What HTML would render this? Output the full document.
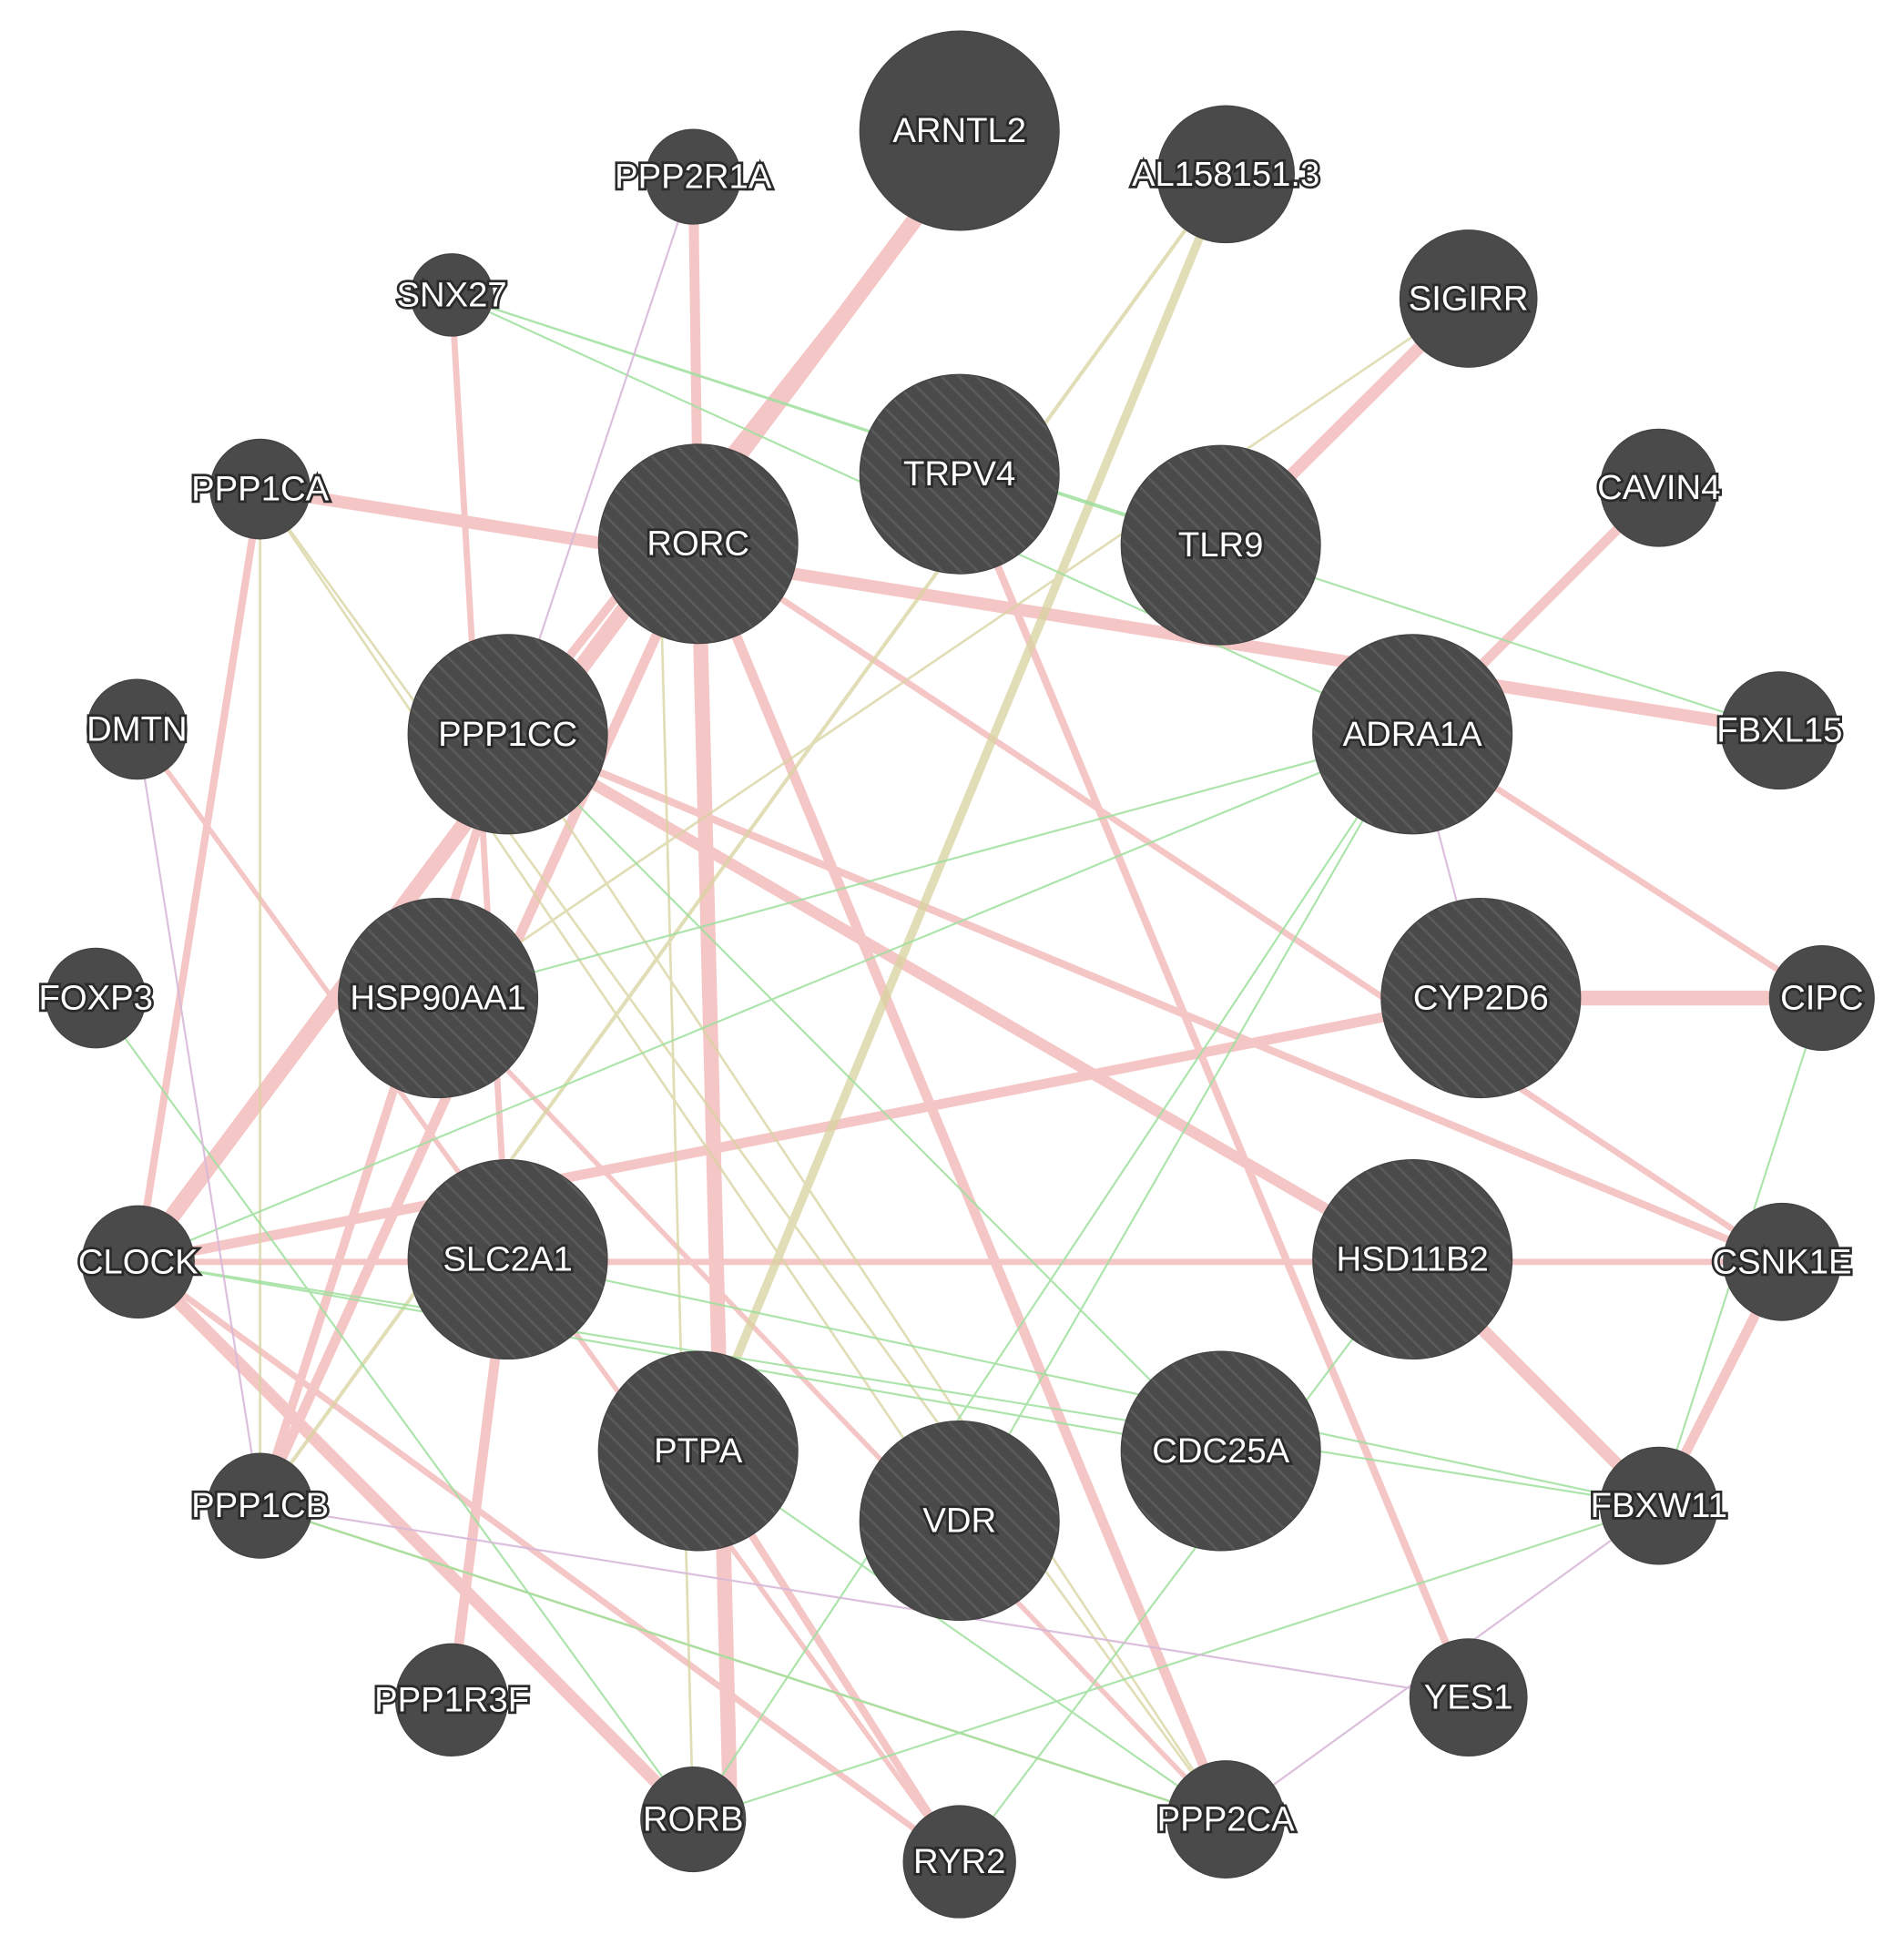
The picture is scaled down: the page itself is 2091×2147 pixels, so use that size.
<!DOCTYPE html>
<html><head><meta charset="utf-8"><style>html,body{margin:0;padding:0;background:#fff}svg{display:block}</style></head>
<body>
<svg width="2091" height="2147" viewBox="0 0 1530 1571" xmlns="http://www.w3.org/2000/svg">
<defs>
<pattern id="st" width="10" height="10" patternUnits="userSpaceOnUse" patternTransform="rotate(-45)">
<rect width="10" height="10" fill="#4a4a4a"/><rect width="2" height="10" fill="#5a5a5a"/>
</pattern>
</defs>
<g fill="none" stroke-linecap="butt">
<g stroke="#f0a8a8" opacity="0.65">
<line x1="740" y1="170" x2="111" y2="1014" stroke-width="13"/>
<line x1="740" y1="170" x2="408" y2="590" stroke-width="7"/>
<line x1="557" y1="142" x2="561" y2="437" stroke-width="8"/>
<line x1="363" y1="237" x2="408" y2="1012" stroke-width="5"/>
<line x1="1180" y1="240" x2="981" y2="438" stroke-width="10"/>
<line x1="1333" y1="392" x2="1135" y2="590" stroke-width="8"/>
<line x1="209" y1="393" x2="1430" y2="587" stroke-width="10"/>
<line x1="209" y1="393" x2="111" y2="1014" stroke-width="6"/>
<line x1="561" y1="437" x2="587" y2="1462" stroke-width="12"/>
<line x1="561" y1="437" x2="985" y2="1462" stroke-width="8"/>
<line x1="561" y1="437" x2="1432" y2="1014" stroke-width="5"/>
<line x1="561" y1="437" x2="209" y2="1210" stroke-width="8"/>
<line x1="771" y1="381" x2="1180" y2="1364" stroke-width="6"/>
<line x1="408" y1="590" x2="1135" y2="1012" stroke-width="9"/>
<line x1="408" y1="590" x2="1432" y2="1014" stroke-width="6"/>
<line x1="408" y1="590" x2="209" y2="1210" stroke-width="7"/>
<line x1="110" y1="586" x2="771" y2="1496" stroke-width="4"/>
<line x1="111" y1="1014" x2="1190" y2="802" stroke-width="8"/>
<line x1="111" y1="1014" x2="1432" y2="1014" stroke-width="5"/>
<line x1="1190" y1="802" x2="1464" y2="802" stroke-width="12"/>
<line x1="1135" y1="590" x2="1464" y2="802" stroke-width="5"/>
<line x1="1432" y1="1014" x2="1333" y2="1210" stroke-width="8"/>
<line x1="1135" y1="1012" x2="1333" y2="1210" stroke-width="10"/>
<line x1="111" y1="1014" x2="557" y2="1462" stroke-width="10"/>
<line x1="111" y1="1014" x2="771" y2="1496" stroke-width="5"/>
<line x1="363" y1="1366" x2="408" y2="1012" stroke-width="8"/>
<line x1="561" y1="1166" x2="771" y2="1496" stroke-width="6"/>
<line x1="352" y1="802" x2="985" y2="1462" stroke-width="4"/>
</g>
<g stroke="#d8d4a0" opacity="0.75">
<line x1="985" y1="140" x2="561" y2="1166" stroke-width="7"/>
<line x1="985" y1="140" x2="209" y2="1210" stroke-width="3"/>
<line x1="209" y1="393" x2="771" y2="1222" stroke-width="2"/>
<line x1="209" y1="393" x2="209" y2="1210" stroke-width="2"/>
<line x1="209" y1="393" x2="985" y2="1462" stroke-width="2"/>
<line x1="530" y1="437" x2="557" y2="1462" stroke-width="2"/>
<line x1="408" y1="590" x2="985" y2="1462" stroke-width="2"/>
<line x1="1180" y1="240" x2="352" y2="802" stroke-width="2"/>
<line x1="209" y1="1210" x2="985" y2="1462" stroke-width="2"/>
</g>
<g stroke="#9ee09e" opacity="0.85" stroke-width="1.6">
<line x1="363" y1="237" x2="1135" y2="590"/>
<line x1="363" y1="237" x2="1430" y2="587"/>
<line x1="363" y1="237" x2="981" y2="438"/>
<line x1="111" y1="1014" x2="981" y2="1166"/>
<line x1="111" y1="1014" x2="1333" y2="1210"/>
<line x1="209" y1="1210" x2="985" y2="1462"/>
<line x1="771" y1="1222" x2="1135" y2="590"/>
<line x1="1464" y1="802" x2="1333" y2="1210"/>
<line x1="77" y1="802" x2="557" y2="1462"/>
<line x1="352" y1="802" x2="1135" y2="590"/>
<line x1="408" y1="1012" x2="1333" y2="1210"/>
<line x1="557" y1="1462" x2="1135" y2="590"/>
<line x1="771" y1="1496" x2="1135" y2="1012"/>
<line x1="111" y1="1014" x2="1135" y2="590"/>
<line x1="408" y1="590" x2="981" y2="1166"/>
<line x1="985" y1="1462" x2="561" y2="1166"/>
<line x1="557" y1="1462" x2="1333" y2="1210"/>
</g>
<g stroke="#d8b8d8" opacity="0.9" stroke-width="1.6">
<line x1="110" y1="586" x2="209" y2="1210"/>
<line x1="209" y1="1210" x2="1180" y2="1364"/>
<line x1="985" y1="1462" x2="1333" y2="1210"/>
<line x1="557" y1="142" x2="408" y2="590"/>
<line x1="1135" y1="590" x2="1180" y2="760"/>
</g>
</g>
<g stroke="#444" stroke-width="1">
<circle cx="771" cy="105" r="80" fill="#4a4a4a"/>
<circle cx="557" cy="142" r="38" fill="#4a4a4a"/>
<circle cx="985" cy="140" r="55" fill="#4a4a4a"/>
<circle cx="363" cy="237" r="33" fill="#4a4a4a"/>
<circle cx="1180" cy="240" r="55" fill="#4a4a4a"/>
<circle cx="771" cy="381" r="80" fill="url(#st)"/>
<circle cx="561" cy="437" r="80" fill="url(#st)"/>
<circle cx="981" cy="438" r="80" fill="url(#st)"/>
<circle cx="209" cy="393" r="40" fill="#4a4a4a"/>
<circle cx="1333" cy="392" r="47" fill="#4a4a4a"/>
<circle cx="110" cy="586" r="40" fill="#4a4a4a"/>
<circle cx="408" cy="590" r="80" fill="url(#st)"/>
<circle cx="1135" cy="590" r="80" fill="url(#st)"/>
<circle cx="1430" cy="587" r="47" fill="#4a4a4a"/>
<circle cx="77" cy="802" r="40" fill="#4a4a4a"/>
<circle cx="352" cy="802" r="80" fill="url(#st)"/>
<circle cx="1190" cy="802" r="80" fill="url(#st)"/>
<circle cx="1464" cy="802" r="42" fill="#4a4a4a"/>
<circle cx="111" cy="1014" r="45" fill="#4a4a4a"/>
<circle cx="408" cy="1012" r="80" fill="url(#st)"/>
<circle cx="1135" cy="1012" r="80" fill="url(#st)"/>
<circle cx="1432" cy="1014" r="47" fill="#4a4a4a"/>
<circle cx="561" cy="1166" r="80" fill="url(#st)"/>
<circle cx="981" cy="1166" r="80" fill="url(#st)"/>
<circle cx="771" cy="1222" r="80" fill="url(#st)"/>
<circle cx="209" cy="1210" r="42" fill="#4a4a4a"/>
<circle cx="1333" cy="1210" r="47" fill="#4a4a4a"/>
<circle cx="363" cy="1366" r="45" fill="#4a4a4a"/>
<circle cx="1180" cy="1364" r="47" fill="#4a4a4a"/>
<circle cx="557" cy="1462" r="42" fill="#4a4a4a"/>
<circle cx="771" cy="1496" r="45" fill="#4a4a4a"/>
<circle cx="985" cy="1462" r="47" fill="#4a4a4a"/>
</g>
<g font-family="Liberation Sans, sans-serif" font-size="28" text-anchor="middle" fill="#fff" stroke="#2a2a2a" stroke-width="4" paint-order="stroke" dominant-baseline="central">
<text x="771" y="105">ARNTL2</text>
<text x="557" y="142">PPP2R1A</text>
<text x="985" y="140">AL158151.3</text>
<text x="363" y="237">SNX27</text>
<text x="1180" y="240">SIGIRR</text>
<text x="771" y="381">TRPV4</text>
<text x="561" y="437">RORC</text>
<text x="981" y="438">TLR9</text>
<text x="209" y="393">PPP1CA</text>
<text x="1333" y="392">CAVIN4</text>
<text x="110" y="586">DMTN</text>
<text x="408" y="590">PPP1CC</text>
<text x="1135" y="590">ADRA1A</text>
<text x="1430" y="587">FBXL15</text>
<text x="77" y="802">FOXP3</text>
<text x="352" y="802">HSP90AA1</text>
<text x="1190" y="802">CYP2D6</text>
<text x="1464" y="802">CIPC</text>
<text x="111" y="1014">CLOCK</text>
<text x="408" y="1012">SLC2A1</text>
<text x="1135" y="1012">HSD11B2</text>
<text x="1432" y="1014">CSNK1E</text>
<text x="561" y="1166">PTPA</text>
<text x="981" y="1166">CDC25A</text>
<text x="771" y="1222">VDR</text>
<text x="209" y="1210">PPP1CB</text>
<text x="1333" y="1210">FBXW11</text>
<text x="363" y="1366">PPP1R3F</text>
<text x="1180" y="1364">YES1</text>
<text x="557" y="1462">RORB</text>
<text x="771" y="1496">RYR2</text>
<text x="985" y="1462">PPP2CA</text>
</g>
</svg>
</body></html>
